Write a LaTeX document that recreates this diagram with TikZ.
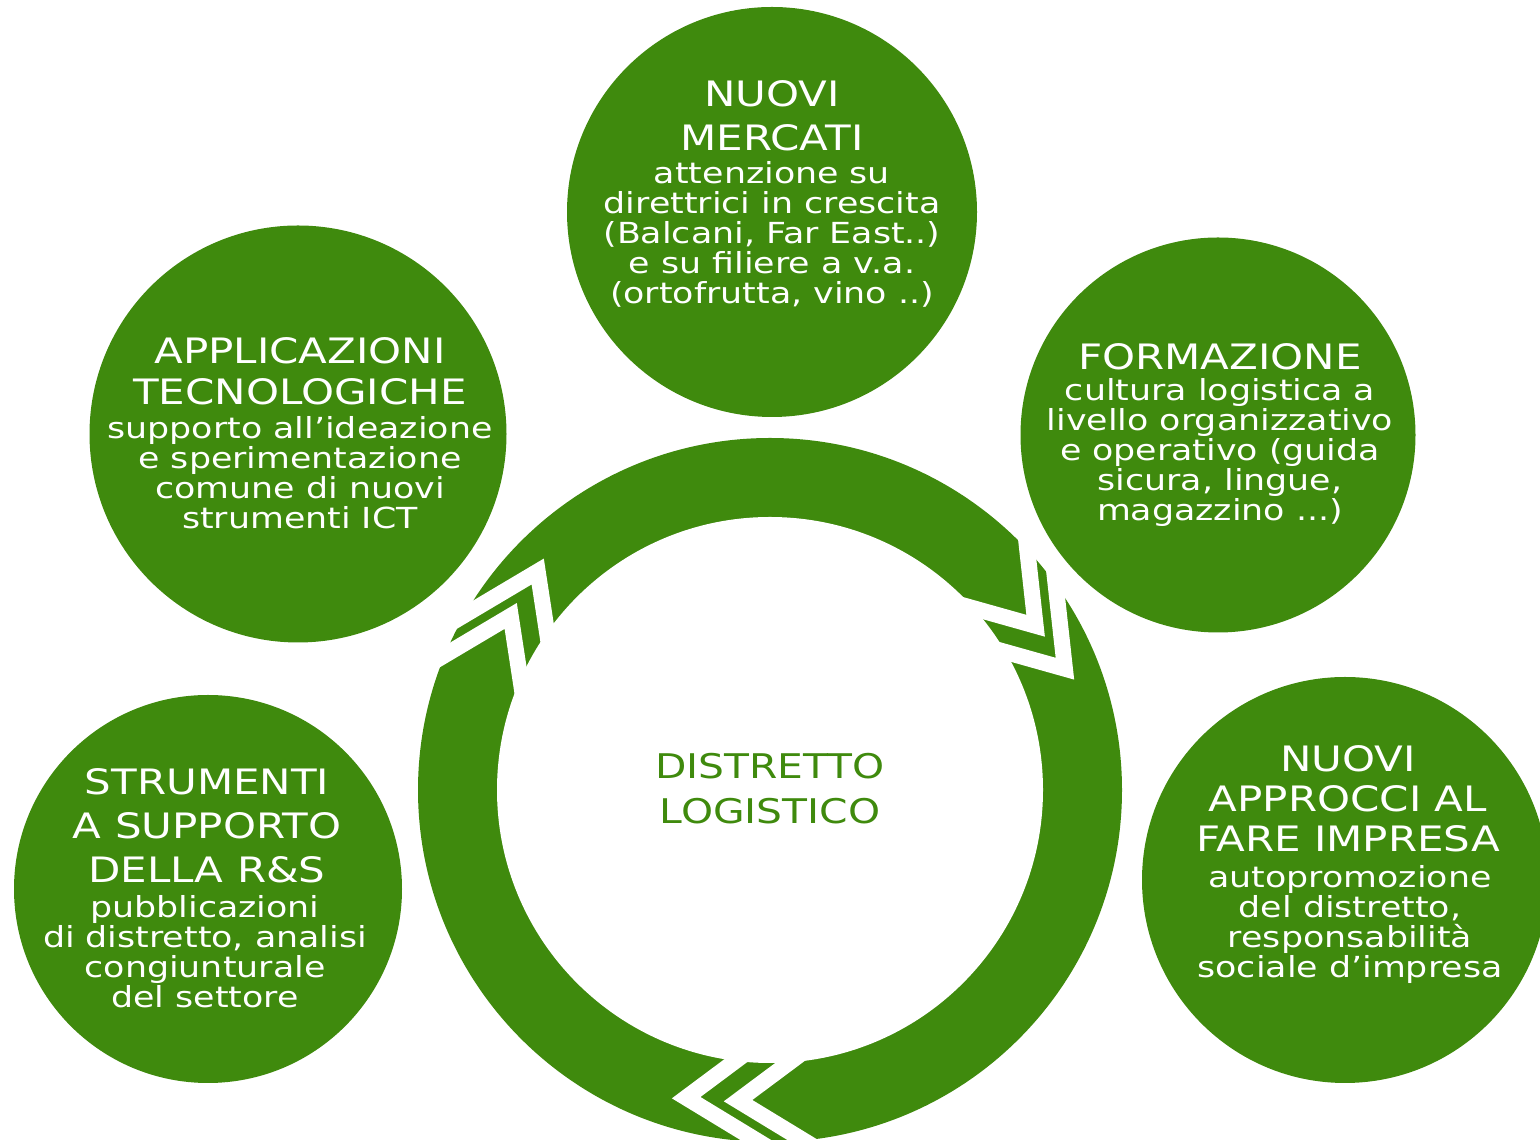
\documentclass[tikz,border=0pt]{standalone}
\usepackage{fontspec}
\setmainfont{DejaVu Sans}[FakeStretch=1.2]
\usetikzlibrary{positioning}
\definecolor{leaf}{RGB}{63,138,13}
\newcommand\headsize{\fontsize{35}{44}\selectfont}
\newcommand\blurbsize{\fontsize{29}{30}\selectfont}

\begin{document}
\begin{tikzpicture}[x=1pt, y=1pt,
	bubble/.style={circle, fill=leaf, inner sep=0pt, minimum size=#1},
	headline/.style={text=white, font=\headsize, align=center, inner sep=0pt, anchor=north},
	blurb/.style={text=white, font=\blurbsize, align=center, inner sep=0pt, anchor=north},
	gapband/.style={draw=white, line width=16pt, line join=miter}]
	\useasboundingbox (0,0) rectangle (1540,1140);

	% ring cut into three arrows
	\coordinate (hub) at (770,350);
	\fill[leaf] (hub) circle[radius=352pt];
	\fill[white] (hub) circle[radius=273pt];
	\begin{scope}
		\clip (hub) circle[radius=356pt];
		\foreach \tip in {34.3,-93.3,148.7} {
			\begin{scope}[shift={(hub)}, rotate=\tip]
				\draw[gapband] (312,-14) ++(62:130) -- (312,-14) -- ++(130:110);
				\draw[gapband] (312,-66) ++(62:130) -- (312,-66) -- ++(130:110);
			\end{scope}
		}
	\end{scope}
	\node[text=leaf, font=\fontsize{34}{45}\selectfont, align=center, inner sep=0pt, anchor=north] (hubtext) at (770,387) {DISTRETTO\\LOGISTICO};

	% the five themes
	\node[bubble=410pt] (mercati) at (772,928) {};
	\node[headline] (mercatihead) at (772,1060) {NUOVI\\MERCATI};
	\node[blurb] (mercatibody) at (772,979) {attenzione su\\direttrici in crescita\\(Balcani, Far East..)\\e su filiere a v.a.\\(ortofrutta, vino ..)};

	\node[bubble=417pt] (tecno) at (298,706) {};
	\node[headline, font=\fontsize{35}{41}\selectfont] (tecnohead) at (300,803) {APPLICAZIONI\\TECNOLOGICHE};
	\node[blurb] (tecnobody) at (300,724) {supporto all’ideazione\\e sperimentazione\\comune di nuovi\\strumenti ICT};

	\node[bubble=395pt] (formaz) at (1218,705) {};
	\node[headline] (formazhead) at (1220,797) {FORMAZIONE};
	\node[blurb] (formazbody) at (1220,762) {cultura logistica a\\livello organizzativo\\e operativo (guida\\sicura, lingue,\\magazzino ...)};

	\node[bubble=388pt] (strum) at (208,251) {};
	\node[headline] (strumhead) at (207,372) {STRUMENTI\\A SUPPORTO\\DELLA R\&S};
	\node[blurb] (strumbody) at (205,245) {pubblicazioni\\di distretto, analisi\\congiunturale\\del settore};

	\node[bubble=406pt] (impresa) at (1345,260) {};
	\node[headline, font=\fontsize{35}{40}\selectfont] (impresahead) at (1348,395) {NUOVI\\APPROCCI AL\\FARE IMPRESA};
	\node[blurb] (impresabody) at (1350,275) {autopromozione\\del distretto,\\responsabilità\\sociale d’impresa};
\end{tikzpicture}
\end{document}
